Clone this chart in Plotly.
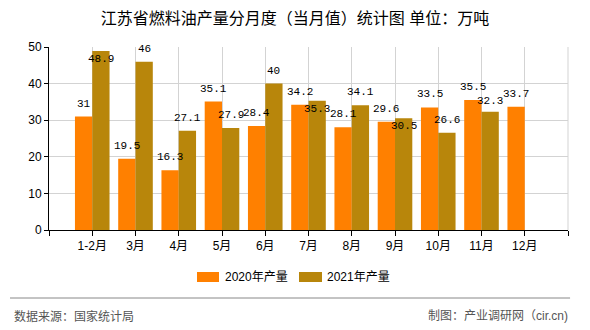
import plotly.graph_objects as go

months = ["1-2月", "3月", "4月", "5月", "6月", "7月", "8月", "9月", "10月", "11月", "12月"]
y2020 = [31, 19.5, 16.3, 35.1, 28.4, 34.2, 28.1, 29.6, 33.5, 35.5, 33.7]
y2021 = [48.9, 46, 27.1, 27.9, 40, 35.3, 34.1, 30.5, 26.6, 32.3, None]
name2020 = "2020年产量"
name2021 = "2021年产量"
title_text = "江苏省燃料油产量分月度（当月值）统计图 单位：万吨"
source_text = "数据来源：国家统计局"
credit_text = "制图：产业调研网（cir.cn)"

# label vertical offsets (px) : most above bar top, some drawn inside
shift2021 = [-8, 13, 13, 13, 13, -8, 13, -8, 13, 11, 13]
shift2020 = [13] * len(y2020)

C2020 = "#FF8000"
C2021 = "#B8860B"
CJK = "Liberation Sans, Noto Sans CJK SC, sans-serif"
MONO = "Liberation Mono, DejaVu Sans Mono, monospace"

xs = list(range(len(months)))

fig = go.Figure()
fig.add_trace(go.Bar(x=xs, y=y2020, name=name2020, showlegend=False,
                     marker=dict(color=C2020, line=dict(width=0))))
fig.add_trace(go.Bar(x=xs, y=y2021, name=name2021, showlegend=False,
                     marker=dict(color=C2021, line=dict(width=0))))

annotations = []
half = 0.2
for i, v in enumerate(y2020):
    if v is not None:
        annotations.append(dict(x=xs[i] - half, y=v, xref="x", yref="y", text=str(v), showarrow=False,
                                yshift=shift2020[i], font=dict(family=MONO, size=11, color="#000")))
for i, v in enumerate(y2021):
    if v is not None:
        annotations.append(dict(x=xs[i] + half, y=v, xref="x", yref="y", text=str(v), showarrow=False,
                                yshift=shift2021[i], font=dict(family=MONO, size=11, color="#000")))

annotations.append(dict(x=-0.0713, y=-0.47, xref="paper", yref="paper", text=source_text, showarrow=False,
                        xanchor="left", yanchor="middle", font=dict(family=CJK, size=12, color="#555")))
annotations.append(dict(x=1.004, y=-0.47, xref="paper", yref="paper", text=credit_text, showarrow=False,
                        xanchor="right", yanchor="middle", font=dict(family=CJK, size=12, color="#555")))

# custom legend (wide swatches like the reference)
legend_items = [(name2020, C2020, 0.2852, 0.3276, 0.3353), (name2021, C2021, 0.4817, 0.5260, 0.5318)]
shapes = [
    dict(type="line", xref="paper", yref="paper", x0=-0.0751, x1=1.004, y0=-0.3716, y1=-0.3716,
         line=dict(color="#888", width=1)),
    dict(type="line", xref="paper", yref="paper", x0=1, x1=1, y0=0, y1=1,
         line=dict(color="#d3d3d3", width=1)),
]
for name, col, x0, x1, xt in legend_items:
    shapes.append(dict(type="rect", xref="paper", yref="paper", x0=x0, x1=x1, y0=-0.2842, y1=-0.2295,
                       fillcolor=col, line=dict(width=0)))
    annotations.append(dict(x=xt, y=-0.2568, xref="paper", yref="paper", text=name, showarrow=False,
                            xanchor="left", yanchor="middle", font=dict(family=CJK, size=12, color="#000")))

fig.update_layout(
    width=590, height=330,
    margin=dict(l=49, r=22, t=47, b=100),
    paper_bgcolor="white", plot_bgcolor="white",
    barmode="group", bargap=0.2, bargroupgap=0,
    title=dict(text=title_text, x=0.5, xanchor="center", y=0.945, yanchor="middle", yref="container",
               font=dict(family=CJK, size=16, color="#000")),
    showlegend=False,
    annotations=annotations,
    shapes=shapes,
)

fig.update_xaxes(
    range=[-1, len(months)], tickmode="array",
    tickvals=list(range(-1, len(months) + 1)),
    ticktext=[""] + months + [""],
    showgrid=True, gridcolor="#d3d3d3", gridwidth=1,
    showline=True, linecolor="#000", linewidth=1,
    ticks="outside", ticklen=5, tickcolor="#000",
    tickfont=dict(family=CJK, size=12, color="#000"), zeroline=False,
)
fig.update_yaxes(
    range=[0, 50], dtick=10, tick0=0,
    showgrid=True, gridcolor="#d3d3d3", gridwidth=1,
    showline=True, linecolor="#000", linewidth=1,
    ticks="outside", ticklen=4, tickcolor="#000",
    tickfont=dict(family=CJK, size=12, color="#000"), zeroline=False,
)

fig.write_html("out.html")
